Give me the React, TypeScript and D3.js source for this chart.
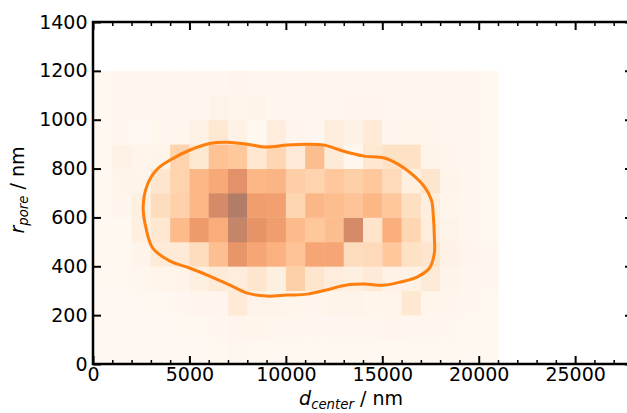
import React, { useEffect, useRef } from "react";
import * as d3 from "d3";

// bin edges (nm)
const xEdges = [0, 1000, 2000, 3000, 4000, 5000, 6000, 7000, 8000, 9000, 10000, 11000, 12000, 13000, 14000, 15000, 16000, 17000, 18000, 19000, 20000, 21000];
const yEdges = [0, 100, 200, 300, 400, 500, 600, 700, 800, 900, 1000, 1100, 1200];

// relative counts (% of max), one row per r_pore bin, bottom up
const row0 = [1, 1, 1, 1, 1, 1, 2, 3, 2, 2, 2, 2, 2, 2, 2, 2, 2, 2, 2, 2, 2];
const row1 = [1, 1, 1, 1, 2, 2, 4, 5, 6, 4, 4, 3, 3, 4, 4, 5, 3, 3, 3, 2, 2];
const row2 = [1, 1, 2, 2, 3, 5, 5, 18, 8, 7, 6, 5, 7, 8, 6, 6, 20, 6, 5, 4, 2];
const row3 = [2, 2, 4, 6, 7, 12, 17, 15, 22, 12, 37, 22, 15, 12, 18, 10, 10, 17, 7, 4, 3];
const row4 = [2, 2, 7, 17, 18, 28, 47, 73, 62, 55, 44, 62, 62, 28, 30, 42, 25, 22, 10, 5, 3];
const row5 = [2, 2, 13, 20, 50, 70, 58, 90, 75, 67, 50, 42, 48, 83, 23, 57, 33, 15, 8, 3, 2];
const row6 = [2, 5, 12, 28, 36, 52, 83, 100, 67, 66, 33, 52, 48, 44, 52, 42, 27, 14, 6, 3, 2];
const row7 = [2, 7, 7, 22, 35, 52, 60, 77, 52, 53, 38, 35, 42, 37, 42, 30, 13, 22, 7, 3, 2];
const row8 = [2, 10, 5, 7, 35, 20, 45, 42, 20, 33, 18, 48, 17, 4, 20, 25, 25, 8, 5, 3, 2];
const row9 = [2, 3, 1, 4, 4, 10, 20, 10, 2, 15, 5, 3, 15, 10, 18, 5, 6, 5, 4, 3, 2];
const row10 = [2, 3, 3, 3, 3, 3, 8, 5, 7, 3, 3, 3, 3, 5, 5, 4, 4, 4, 3, 3, 2];
const row11 = [2, 3, 3, 3, 3, 3, 3, 5, 4, 4, 3, 4, 3, 3, 3, 3, 3, 3, 3, 3, 2];
const rows = [row0, row1, row2, row3, row4, row5, row6, row7, row8, row9, row10, row11];

// density contour (d_center, r_pore)
const contourX = [2600, 2800, 3300, 4000, 5000, 6050, 6950, 8000, 9000, 10050, 11100, 12000, 13000, 14050, 15100, 15900, 16600, 17200, 17550, 17650, 17700, 17700, 17450, 16800, 15900, 15100, 14050, 13150, 12100, 11100, 10050, 9000, 8000, 7100, 6050, 5000, 4000, 3100, 2750];
const contourY = [640, 730, 795, 835, 875, 903, 908, 900, 888, 896, 900, 896, 871, 851, 843, 814, 773, 724, 671, 601, 519, 454, 393, 356, 335, 323, 327, 323, 303, 286, 282, 278, 290, 323, 360, 393, 421, 474, 556];

const xMajor = [0, 5000, 10000, 15000, 20000, 25000];
const xMinor = [1000, 2000, 3000, 4000, 6000, 7000, 8000, 9000, 11000, 12000, 13000, 14000, 16000, 17000, 18000, 19000, 21000, 22000, 23000, 24000, 26000, 27000];
const yMajor = [0, 200, 400, 600, 800, 1000, 1200, 1400];

const FONT = "DejaVu Sans, sans-serif";

export default function App() {
    const gRef = useRef<SVGGElement>(null);

    useEffect(() => {
        const g = d3.select(gRef.current);
        g.selectAll("*").remove();

        const x = d3.scaleLinear().domain([0, 28000]).range([93, 633]);
        const y = d3.scaleLinear().domain([0, 1400]).range([364, 22]);
        // Oranges at alpha 0.6 over white
        const shade = (v: number) => d3.interpolateRgb("#ffffff", d3.interpolateOranges(v / 100))(0.6);

        const cells: any[] = [];
        rows.forEach((row, j) =>
            row.forEach((v, i) => cells.push({ x0: xEdges[i], x1: xEdges[i + 1], y0: yEdges[j], y1: yEdges[j + 1], v }))
        );

        g.append("g")
            .selectAll("rect")
            .data(cells)
            .join("rect")
            .attr("x", (d) => x(d.x0))
            .attr("y", (d) => y(d.y1))
            .attr("width", (d) => x(d.x1) - x(d.x0) + 0.4)
            .attr("height", (d) => y(d.y0) - y(d.y1) + 0.4)
            .attr("fill", (d) => shade(d.v));

        const line = d3
            .line<[number, number]>()
            .x((d) => x(d[0]))
            .y((d) => y(d[1]))
            .curve(d3.curveCatmullRomClosed.alpha(0.5));

        g.append("path")
            .datum(d3.zip(contourX, contourY) as [number, number][])
            .attr("d", line)
            .attr("fill", "none")
            .attr("stroke", "#ff7f0e")
            .attr("stroke-width", 3);

        // axes, ticks pointing inward
        const style = (sel: any, w: number) => {
            sel.select(".domain").remove();
            sel.selectAll(".tick line").attr("stroke", "#000").attr("stroke-width", w);
            sel.selectAll(".tick text").attr("fill", "#000").style("font-family", FONT).style("font-size", "19px");
        };

        g.append("g").attr("transform", "translate(0,364)")
            .call(d3.axisBottom(x).tickValues(xMajor).tickSizeInner(-8).tickSizeOuter(0).tickPadding(3.5).tickFormat(d3.format("d")))
            .call((s) => style(s, 2));
        g.append("g").attr("transform", "translate(0,364)")
            .call(d3.axisBottom(x).tickValues(xMinor).tickSizeInner(-4).tickSizeOuter(0).tickFormat(() => ""))
            .call((s) => style(s, 1.5));
        g.append("g").attr("transform", "translate(0,22)")
            .call(d3.axisTop(x).tickValues(xMajor).tickSizeInner(-8).tickSizeOuter(0).tickFormat(() => ""))
            .call((s) => style(s, 2));
        g.append("g").attr("transform", "translate(0,22)")
            .call(d3.axisTop(x).tickValues(xMinor).tickSizeInner(-4).tickSizeOuter(0).tickFormat(() => ""))
            .call((s) => style(s, 1.5));
        g.append("g").attr("transform", "translate(93,0)")
            .call(d3.axisLeft(y).tickValues(yMajor).tickSizeInner(-8).tickSizeOuter(0).tickPadding(5.5).tickFormat(d3.format("d")))
            .call((s) => style(s, 2));
        g.append("g").attr("transform", "translate(633,0)")
            .call(d3.axisRight(y).tickValues(yMajor).tickSizeInner(-8).tickSizeOuter(0).tickFormat(() => ""))
            .call((s) => style(s, 2));

        g.append("rect")
            .attr("x", 93)
            .attr("y", 22)
            .attr("width", 540)
            .attr("height", 342)
            .attr("fill", "none")
            .attr("stroke", "#000")
            .attr("stroke-width", 2.5);
    }, []);

    return (
        <svg width={627} height={413} style={{ position: "absolute", left: 0, top: 0, background: "#fff" }}>
            <g ref={gRef} />
            <text x={351} y={405} textAnchor="middle" fontFamily={FONT} fontSize={19} fill="#000" style={{ whiteSpace: "pre" }}>
                <tspan fontStyle="italic">d</tspan>
                <tspan fontStyle="italic" fontSize={13.3} dy={3.5}>center</tspan>
                <tspan dy={-3.5}> / nm</tspan>
            </text>
            <text transform="translate(24,190) rotate(-90)" textAnchor="middle" fontFamily={FONT} fontSize={19} fill="#000" style={{ whiteSpace: "pre" }}>
                <tspan fontStyle="italic">r</tspan>
                <tspan fontStyle="italic" fontSize={13.3} dy={3.5}>pore</tspan>
                <tspan dy={-3.5}> / nm</tspan>
            </text>
        </svg>
    );
}
